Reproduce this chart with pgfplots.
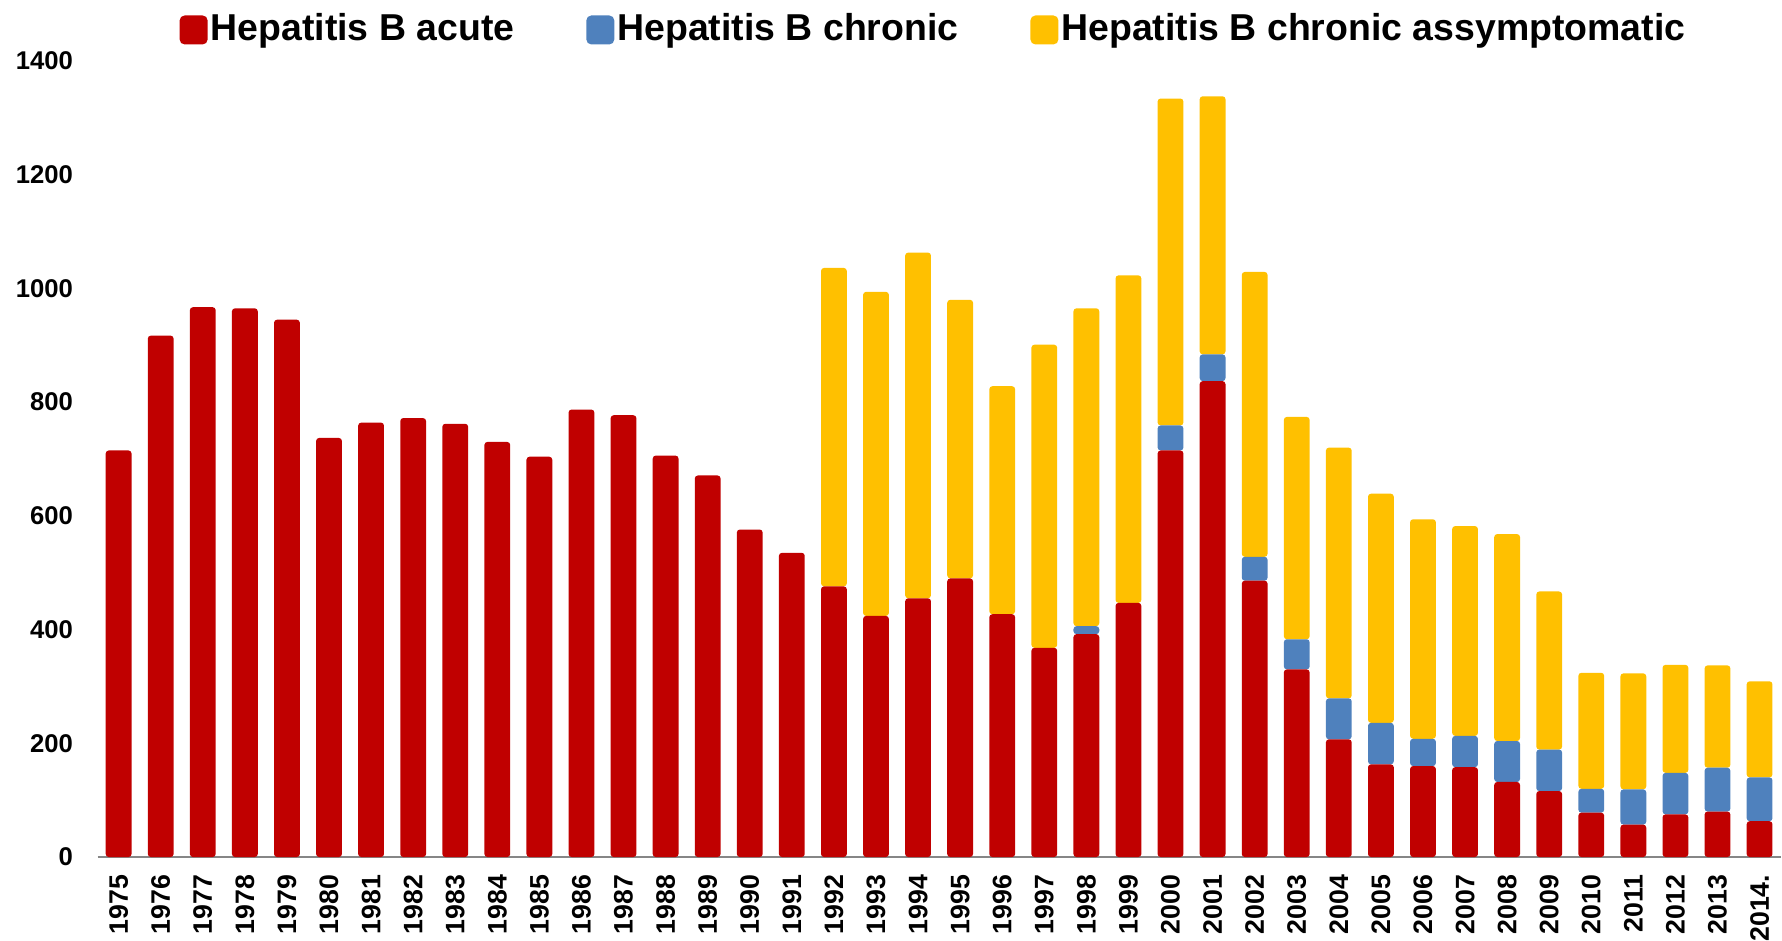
\documentclass[border=0pt]{standalone}
\usepackage{fontspec}
\setmainfont{Liberation Sans}
\usepackage{pgfplots}
\usepackage{pgfplotstable}
\pgfplotsset{compat=1.18}
\definecolor{cRed}{HTML}{C00000}
\definecolor{cBlue}{HTML}{4F81BD}
\definecolor{cYel}{HTML}{FFC000}
\definecolor{cAxis}{HTML}{868686}
\pgfplotstableread{
x acute chronic asym
0 715 0 0
1 917 0 0
2 967 0 0
3 965 0 0
4 945 0 0
5 737 0 0
6 764 0 0
7 772 0 0
8 762 0 0
9 730 0 0
10 704 0 0
11 787 0 0
12 777 0 0
13 706 0 0
14 671 0 0
15 576 0 0
16 535 0 0
17 476 0 560
18 424 0 570
19 455 0 608
20 490 0 490
21 427 0 401
22 368 0 533
23 392 14 559
24 447 0 576
25 715 44 575
26 837 47 454
27 486 42 501
28 330 53 391
29 207 72 441
30 163 73 403
31 160 48 386
32 158 55 369
33 132 72 364
34 116 73 278
35 78 42 204
36 57 62 204
37 75 73 190
38 80 77 180
39 63 77 169
}\data
\begin{document}
\begin{tikzpicture}
\useasboundingbox (-9.76mm,-8.3mm) rectangle (168.44mm,85.7mm);
\begin{axis}[
  scale only axis,
  width=168.3mm, height=79.6mm,
  xmin=-0.5, xmax=39.5,
  ymin=0, ymax=1400,
  ytick={0,200,...,1400},
  xtick=data,
  xticklabels={1975,1976,1977,1978,1979,1980,1981,1982,1983,1984,1985,1986,1987,1988,1989,1990,1991,1992,1993,1994,1995,1996,1997,1998,1999,2000,2001,2002,2003,2004,2005,2006,2007,2008,2009,2010,2011,2012,2013,2014.},
  ybar stacked,
  bar width=2.58mm,
  separate axis lines,
  axis x line*=bottom,
  axis y line*=left,
  y axis line style={draw=none},
  x axis line style={draw=cAxis, line width=0.6pt, -},
  major tick length=0pt,
  /pgf/number format/assume math mode=true,
  /pgf/number format/1000 sep={},
  yticklabel style={font=\fontsize{7.3}{8}\selectfont\bfseries, inner sep=0pt, anchor=east, xshift=-2.4mm},
  xticklabel style={font=\fontsize{7.6}{8}\selectfont\bfseries, inner sep=0pt, yshift=-1.7mm, rotate=90, anchor=east},
  legend columns=3,
  legend style={draw=none, fill=none, at={(0.497,1.039)}, anchor=center,
    font=\fontsize{10.65}{12}\selectfont\bfseries,
    nodes={inner sep=0.3mm},
    /tikz/every even column/.append style={column sep=6.9mm}},
  legend image code/.code={\fill[#1, rounded corners=0.5mm] (-0.2mm,-1.45mm) rectangle (2.6mm,1.45mm);},
  every axis plot/.append style={draw=none, rounded corners=0.3mm},
]
\addplot[fill=cRed] table[x=x, y=acute] {\data};
\addplot[fill=cBlue] table[x=x, y=chronic] {\data};
\addplot[fill=cYel] table[x=x, y=asym] {\data};
\legend{Hepatitis B acute, Hepatitis B chronic, Hepatitis B chronic assymptomatic}
\end{axis}
\end{tikzpicture}
\end{document}
